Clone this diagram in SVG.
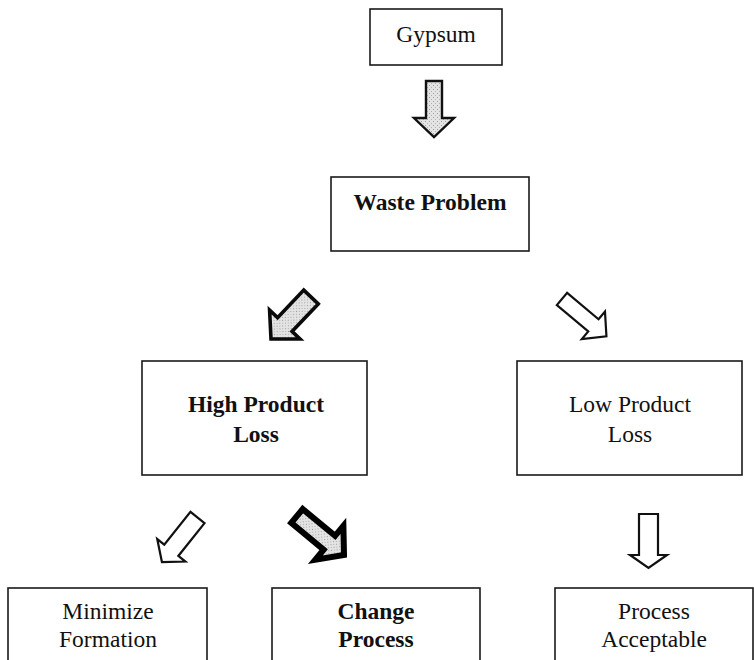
<svg xmlns="http://www.w3.org/2000/svg" width="754" height="660" viewBox="0 0 754 660">
  <style>
    .box { fill: #ffffff; stroke: #1a1a1a; stroke-width: 1.6; }
    .label { font-family: "Liberation Serif", "Times New Roman", serif; font-size: 23.5px; fill: #111111; text-anchor: middle; }
    .bold { font-weight: bold; }
    .arrow-open { fill: #ffffff; stroke: #111111; stroke-width: 2.2; stroke-linejoin: miter; }
    .arrow-shaded { fill: url(#stipple); stroke: #111111; stroke-width: 2.4; stroke-linejoin: miter; }
    .arrow-heavy { fill: url(#stipple); stroke: #0a0a0a; stroke-width: 3.6; stroke-linejoin: miter; }
    .arrow-bold { fill: url(#stipple); stroke: #000000; stroke-width: 6; stroke-linejoin: miter; }
  </style>
  <defs>
    <!-- grainy grey fill used by the shaded block arrows -->
    <pattern id="stipple" width="4" height="4" patternUnits="userSpaceOnUse">
      <rect width="4" height="4" fill="#e4e4e4"/>
      <rect x="0" y="0" width="1" height="1" fill="#9a9a9a"/>
      <rect x="2" y="2" width="1" height="1" fill="#b0b0b0"/>
    </pattern>
  </defs>

  <rect width="754" height="660" fill="#ffffff"/>

  <!-- connectors: block arrows, drawn pointing along +x then rotated into place -->
  <g id="connectors">
    <!-- Gypsum -> Waste Problem -->
    <path class="arrow-shaded" transform="translate(434,81) rotate(90)"
          d="M0,-8 L37,-8 L37,-20 L56,0 L37,20 L37,8 L0,8 Z"/>
    <!-- Waste Problem -> High Product Loss -->
    <path class="arrow-heavy" transform="translate(311,297) rotate(133.6)"
          d="M0,-10 L38,-10 L38,-21 L58,0 L38,21 L38,10 L0,10 Z"/>
    <!-- Waste Problem -> Low Product Loss -->
    <path class="arrow-open" transform="translate(562,299) rotate(40)"
          d="M0,-8 L41,-8 L41,-18 L58,0 L41,18 L41,8 L0,8 Z"/>
    <!-- High Product Loss -> Minimize Formation -->
    <path class="arrow-open" transform="translate(197.5,517.5) rotate(128.6)"
          d="M0,-9 L42,-9 L42,-18 L57,0 L42,18 L42,9 L0,9 Z"/>
    <!-- High Product Loss -> Change Process -->
    <path class="arrow-bold" transform="translate(297,516) rotate(39.6)"
          d="M0,-9 L42,-9 L42,-22 L61,0 L42,22 L42,9 L0,9 Z"/>
    <!-- Low Product Loss -> Process Acceptable -->
    <path class="arrow-open" transform="translate(648.5,514) rotate(90)"
          d="M0,-9.5 L41,-9.5 L41,-18.5 L54,0 L41,18.5 L41,9.5 L0,9.5 Z"/>
  </g>

  <g id="gypsum">
    <rect class="box" x="370" y="9" width="132" height="56"/>
    <text class="label" x="436" y="42">Gypsum</text>
  </g>

  <g id="waste-problem">
    <rect class="box" x="331" y="177" width="198" height="74"/>
    <text class="label bold" x="430" y="210">Waste Problem</text>
  </g>

  <g id="high-product-loss">
    <rect class="box" x="142" y="361" width="225" height="114"/>
    <text class="label bold" x="256" y="412">High Product</text>
    <text class="label bold" x="256" y="442">Loss</text>
  </g>

  <g id="low-product-loss">
    <rect class="box" x="517" y="361" width="225" height="114"/>
    <text class="label" x="630" y="412">Low Product</text>
    <text class="label" x="630" y="442">Loss</text>
  </g>

  <g id="minimize-formation">
    <rect class="box" x="8" y="588" width="199" height="90"/>
    <text class="label" x="108" y="619">Minimize</text>
    <text class="label" x="108" y="647">Formation</text>
  </g>

  <g id="change-process">
    <rect class="box" x="272" y="588" width="208" height="90"/>
    <text class="label bold" x="376" y="619">Change</text>
    <text class="label bold" x="376" y="647">Process</text>
  </g>

  <g id="process-acceptable">
    <rect class="box" x="555" y="588" width="198" height="90"/>
    <text class="label" x="654" y="619">Process</text>
    <text class="label" x="654" y="647">Acceptable</text>
  </g>
</svg>
